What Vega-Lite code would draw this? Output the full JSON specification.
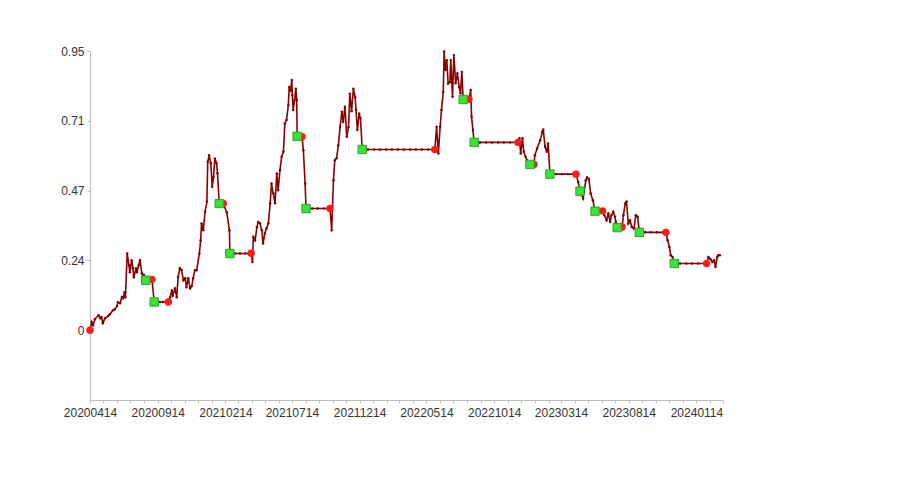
{
  "$schema": "https://vega.github.io/schema/vega-lite/v6.json",
  "autosize": "none",
  "width": 633,
  "height": 349,
  "padding": {"left": 90, "top": 51, "right": 177, "bottom": 100},
  "background": "white",
  "config": {
    "view": {"stroke": null},
    "axis": {"grid": false, "domainColor": "#bdbdbd", "tickColor": "#bdbdbd", "tickSize": 3, "labelColor": "#333333", "labelFont": "Liberation Sans", "labelFontSize": 12, "title": null}
  },
  "data": {"values": [
    {"d":"2020-04-14","v":0.000,"s":"buy"},
    {"d":"2020-04-18","v":0.028},
    {"d":"2020-04-21","v":0.017},
    {"d":"2020-04-25","v":0.037},
    {"d":"2020-05-03","v":0.051},
    {"d":"2020-05-07","v":0.041},
    {"d":"2020-05-10","v":0.045},
    {"d":"2020-05-13","v":0.024},
    {"d":"2020-05-18","v":0.041},
    {"d":"2020-05-25","v":0.048},
    {"d":"2020-05-29","v":0.054},
    {"d":"2020-06-05","v":0.068},
    {"d":"2020-06-09","v":0.071},
    {"d":"2020-06-14","v":0.082},
    {"d":"2020-06-16","v":0.095},
    {"d":"2020-06-21","v":0.092},
    {"d":"2020-06-25","v":0.113},
    {"d":"2020-06-28","v":0.109},
    {"d":"2020-07-01","v":0.129},
    {"d":"2020-07-03","v":0.112},
    {"d":"2020-07-07","v":0.261},
    {"d":"2020-07-11","v":0.221},
    {"d":"2020-07-13","v":0.197},
    {"d":"2020-07-17","v":0.238},
    {"d":"2020-07-20","v":0.211},
    {"d":"2020-07-22","v":0.180},
    {"d":"2020-07-27","v":0.211},
    {"d":"2020-07-29","v":0.197},
    {"d":"2020-08-02","v":0.221},
    {"d":"2020-08-05","v":0.238},
    {"d":"2020-08-09","v":0.194},
    {"d":"2020-08-12","v":0.180},
    {"d":"2020-08-14","v":0.187},
    {"d":"2020-08-18","v":0.170,"s":"sell"},
    {"d":"2020-09-01","v":0.173,"s":"buy"},
    {"d":"2020-09-06","v":0.096,"s":"sell"},
    {"d":"2020-09-12","v":0.096},
    {"d":"2020-09-19","v":0.096},
    {"d":"2020-09-26","v":0.096},
    {"d":"2020-10-03","v":0.096},
    {"d":"2020-10-08","v":0.096,"s":"buy"},
    {"d":"2020-10-12","v":0.112},
    {"d":"2020-10-16","v":0.136},
    {"d":"2020-10-18","v":0.116},
    {"d":"2020-10-23","v":0.143},
    {"d":"2020-10-27","v":0.112},
    {"d":"2020-10-30","v":0.181},
    {"d":"2020-11-03","v":0.211},
    {"d":"2020-11-07","v":0.204},
    {"d":"2020-11-11","v":0.170},
    {"d":"2020-11-15","v":0.177},
    {"d":"2020-11-18","v":0.146},
    {"d":"2020-11-22","v":0.177},
    {"d":"2020-11-26","v":0.143},
    {"d":"2020-11-30","v":0.150},
    {"d":"2020-12-03","v":0.177},
    {"d":"2020-12-07","v":0.204},
    {"d":"2020-12-11","v":0.204},
    {"d":"2020-12-17","v":0.261},
    {"d":"2020-12-20","v":0.306},
    {"d":"2020-12-22","v":0.363},
    {"d":"2020-12-26","v":0.340},
    {"d":"2020-12-30","v":0.403},
    {"d":"2021-01-03","v":0.437},
    {"d":"2021-01-05","v":0.573},
    {"d":"2021-01-08","v":0.595},
    {"d":"2021-01-12","v":0.568},
    {"d":"2021-01-15","v":0.488},
    {"d":"2021-01-18","v":0.521},
    {"d":"2021-01-21","v":0.584},
    {"d":"2021-01-25","v":0.568},
    {"d":"2021-01-27","v":0.534},
    {"d":"2021-01-31","v":0.431,"s":"sell"},
    {"d":"2021-02-09","v":0.431,"s":"buy"},
    {"d":"2021-02-17","v":0.401},
    {"d":"2021-02-23","v":0.340},
    {"d":"2021-02-24","v":0.261,"s":"sell"},
    {"d":"2021-03-08","v":0.261},
    {"d":"2021-03-19","v":0.261},
    {"d":"2021-03-30","v":0.261},
    {"d":"2021-04-13","v":0.262,"s":"buy"},
    {"d":"2021-04-16","v":0.232},
    {"d":"2021-04-18","v":0.317},
    {"d":"2021-04-22","v":0.306},
    {"d":"2021-04-26","v":0.350},
    {"d":"2021-04-29","v":0.368},
    {"d":"2021-05-03","v":0.364},
    {"d":"2021-05-07","v":0.340},
    {"d":"2021-05-10","v":0.295},
    {"d":"2021-05-14","v":0.330},
    {"d":"2021-05-18","v":0.347},
    {"d":"2021-05-22","v":0.364},
    {"d":"2021-05-26","v":0.431},
    {"d":"2021-05-29","v":0.499},
    {"d":"2021-06-02","v":0.466},
    {"d":"2021-06-06","v":0.432},
    {"d":"2021-06-10","v":0.533},
    {"d":"2021-06-13","v":0.476},
    {"d":"2021-06-17","v":0.544},
    {"d":"2021-06-21","v":0.590},
    {"d":"2021-06-25","v":0.607},
    {"d":"2021-06-28","v":0.703},
    {"d":"2021-07-02","v":0.715},
    {"d":"2021-07-06","v":0.766},
    {"d":"2021-07-08","v":0.828},
    {"d":"2021-07-11","v":0.817},
    {"d":"2021-07-14","v":0.851},
    {"d":"2021-07-15","v":0.800},
    {"d":"2021-07-17","v":0.749},
    {"d":"2021-07-20","v":0.783},
    {"d":"2021-07-23","v":0.822},
    {"d":"2021-07-25","v":0.783},
    {"d":"2021-07-26","v":0.660,"s":"sell"},
    {"d":"2021-08-06","v":0.658,"s":"buy"},
    {"d":"2021-08-09","v":0.612},
    {"d":"2021-08-13","v":0.499},
    {"d":"2021-08-15","v":0.414,"s":"sell"},
    {"d":"2021-08-29","v":0.414},
    {"d":"2021-09-11","v":0.414},
    {"d":"2021-09-25","v":0.414},
    {"d":"2021-10-08","v":0.414,"s":"buy"},
    {"d":"2021-10-12","v":0.340},
    {"d":"2021-10-16","v":0.510},
    {"d":"2021-10-19","v":0.578},
    {"d":"2021-10-23","v":0.585},
    {"d":"2021-10-27","v":0.629},
    {"d":"2021-10-31","v":0.692},
    {"d":"2021-11-04","v":0.743},
    {"d":"2021-11-07","v":0.708},
    {"d":"2021-11-11","v":0.760},
    {"d":"2021-11-15","v":0.658},
    {"d":"2021-11-19","v":0.691},
    {"d":"2021-11-22","v":0.805},
    {"d":"2021-11-26","v":0.745},
    {"d":"2021-11-30","v":0.822},
    {"d":"2021-12-04","v":0.793},
    {"d":"2021-12-06","v":0.749},
    {"d":"2021-12-09","v":0.681},
    {"d":"2021-12-13","v":0.737},
    {"d":"2021-12-16","v":0.721},
    {"d":"2021-12-20","v":0.615,"s":"sell"},
    {"d":"2022-01-02","v":0.615},
    {"d":"2022-01-16","v":0.615},
    {"d":"2022-01-29","v":0.615},
    {"d":"2022-02-12","v":0.615},
    {"d":"2022-02-25","v":0.615},
    {"d":"2022-03-11","v":0.615},
    {"d":"2022-03-24","v":0.615},
    {"d":"2022-04-07","v":0.615},
    {"d":"2022-04-20","v":0.615},
    {"d":"2022-05-04","v":0.615},
    {"d":"2022-05-18","v":0.615},
    {"d":"2022-06-02","v":0.615,"s":"buy"},
    {"d":"2022-06-06","v":0.692},
    {"d":"2022-06-10","v":0.601},
    {"d":"2022-06-14","v":0.692},
    {"d":"2022-06-17","v":0.749},
    {"d":"2022-06-21","v":0.811},
    {"d":"2022-06-23","v":0.948},
    {"d":"2022-06-26","v":0.885},
    {"d":"2022-06-29","v":0.919},
    {"d":"2022-07-02","v":0.839},
    {"d":"2022-07-06","v":0.844},
    {"d":"2022-07-08","v":0.919},
    {"d":"2022-07-12","v":0.794},
    {"d":"2022-07-15","v":0.936},
    {"d":"2022-07-19","v":0.840},
    {"d":"2022-07-23","v":0.874},
    {"d":"2022-07-27","v":0.827},
    {"d":"2022-07-30","v":0.806},
    {"d":"2022-08-02","v":0.879},
    {"d":"2022-08-05","v":0.785,"s":"sell"},
    {"d":"2022-08-18","v":0.786,"s":"buy"},
    {"d":"2022-08-22","v":0.817},
    {"d":"2022-08-24","v":0.726},
    {"d":"2022-08-27","v":0.681},
    {"d":"2022-08-30","v":0.639,"s":"sell"},
    {"d":"2022-09-12","v":0.639},
    {"d":"2022-09-26","v":0.639},
    {"d":"2022-10-09","v":0.639},
    {"d":"2022-10-23","v":0.639},
    {"d":"2022-11-05","v":0.639},
    {"d":"2022-11-19","v":0.639},
    {"d":"2022-12-07","v":0.639,"s":"buy"},
    {"d":"2022-12-10","v":0.653},
    {"d":"2022-12-13","v":0.601},
    {"d":"2022-12-17","v":0.653},
    {"d":"2022-12-20","v":0.607},
    {"d":"2022-12-24","v":0.590},
    {"d":"2022-12-27","v":0.578},
    {"d":"2022-12-30","v":0.567},
    {"d":"2023-01-03","v":0.564,"s":"sell"},
    {"d":"2023-01-12","v":0.564,"s":"buy"},
    {"d":"2023-01-14","v":0.595},
    {"d":"2023-01-19","v":0.618},
    {"d":"2023-01-26","v":0.646},
    {"d":"2023-01-31","v":0.675},
    {"d":"2023-02-02","v":0.683},
    {"d":"2023-02-06","v":0.624},
    {"d":"2023-02-10","v":0.607},
    {"d":"2023-02-13","v":0.635},
    {"d":"2023-02-17","v":0.531,"s":"sell"},
    {"d":"2023-03-03","v":0.531},
    {"d":"2023-03-16","v":0.531},
    {"d":"2023-03-30","v":0.531},
    {"d":"2023-04-17","v":0.531,"s":"buy"},
    {"d":"2023-04-22","v":0.504},
    {"d":"2023-04-26","v":0.473,"s":"sell"},
    {"d":"2023-04-30","v":0.459},
    {"d":"2023-05-03","v":0.448},
    {"d":"2023-05-09","v":0.510},
    {"d":"2023-05-12","v":0.520},
    {"d":"2023-05-16","v":0.514},
    {"d":"2023-05-20","v":0.465},
    {"d":"2023-05-25","v":0.442},
    {"d":"2023-05-30","v":0.405,"s":"sell"},
    {"d":"2023-06-16","v":0.406,"s":"buy"},
    {"d":"2023-06-20","v":0.391},
    {"d":"2023-06-25","v":0.374},
    {"d":"2023-06-29","v":0.398},
    {"d":"2023-07-03","v":0.368},
    {"d":"2023-07-06","v":0.391},
    {"d":"2023-07-10","v":0.403},
    {"d":"2023-07-14","v":0.386},
    {"d":"2023-07-16","v":0.368},
    {"d":"2023-07-19","v":0.349,"s":"sell"},
    {"d":"2023-07-30","v":0.351,"s":"buy"},
    {"d":"2023-08-02","v":0.391},
    {"d":"2023-08-06","v":0.431},
    {"d":"2023-08-09","v":0.437},
    {"d":"2023-08-13","v":0.363},
    {"d":"2023-08-17","v":0.374},
    {"d":"2023-08-21","v":0.351},
    {"d":"2023-08-26","v":0.346},
    {"d":"2023-08-30","v":0.391},
    {"d":"2023-09-03","v":0.386},
    {"d":"2023-09-07","v":0.333,"s":"sell"},
    {"d":"2023-09-20","v":0.333},
    {"d":"2023-10-03","v":0.333},
    {"d":"2023-10-17","v":0.333},
    {"d":"2023-10-30","v":0.333},
    {"d":"2023-11-06","v":0.333,"s":"buy"},
    {"d":"2023-11-10","v":0.306},
    {"d":"2023-11-14","v":0.283},
    {"d":"2023-11-17","v":0.255},
    {"d":"2023-11-21","v":0.249},
    {"d":"2023-11-25","v":0.227,"s":"sell"},
    {"d":"2023-12-08","v":0.227},
    {"d":"2023-12-22","v":0.227},
    {"d":"2024-01-04","v":0.227},
    {"d":"2024-01-18","v":0.227},
    {"d":"2024-02-01","v":0.227},
    {"d":"2024-02-06","v":0.227,"s":"buy"},
    {"d":"2024-02-10","v":0.249},
    {"d":"2024-02-15","v":0.241},
    {"d":"2024-02-19","v":0.232},
    {"d":"2024-02-23","v":0.238},
    {"d":"2024-02-26","v":0.215},
    {"d":"2024-03-01","v":0.249},
    {"d":"2024-03-03","v":0.255},
    {"d":"2024-03-07","v":0.255}
  ]},
  "encoding": {
    "x": {
      "field": "d", "type": "temporal",
      "scale": {"type": "utc", "domain": [{"year":2020,"month":4,"date":14,"utc":true},{"year":2024,"month":3,"date":14,"utc":true}]},
      "axis": {
        "values": [
          {"year":2020,"month":4,"date":14,"utc":true},{"year":2020,"month":5,"date":14,"utc":true},{"year":2020,"month":6,"date":14,"utc":true},{"year":2020,"month":7,"date":14,"utc":true},{"year":2020,"month":8,"date":14,"utc":true},{"year":2020,"month":9,"date":14,"utc":true},{"year":2020,"month":10,"date":14,"utc":true},{"year":2020,"month":11,"date":14,"utc":true},{"year":2020,"month":12,"date":14,"utc":true},
          {"year":2021,"month":1,"date":14,"utc":true},{"year":2021,"month":2,"date":14,"utc":true},{"year":2021,"month":3,"date":14,"utc":true},{"year":2021,"month":4,"date":14,"utc":true},{"year":2021,"month":5,"date":14,"utc":true},{"year":2021,"month":6,"date":14,"utc":true},{"year":2021,"month":7,"date":14,"utc":true},{"year":2021,"month":8,"date":14,"utc":true},{"year":2021,"month":9,"date":14,"utc":true},{"year":2021,"month":10,"date":14,"utc":true},{"year":2021,"month":11,"date":14,"utc":true},{"year":2021,"month":12,"date":14,"utc":true},
          {"year":2022,"month":1,"date":14,"utc":true},{"year":2022,"month":2,"date":14,"utc":true},{"year":2022,"month":3,"date":14,"utc":true},{"year":2022,"month":4,"date":14,"utc":true},{"year":2022,"month":5,"date":14,"utc":true},{"year":2022,"month":6,"date":14,"utc":true},{"year":2022,"month":7,"date":14,"utc":true},{"year":2022,"month":8,"date":14,"utc":true},{"year":2022,"month":9,"date":14,"utc":true},{"year":2022,"month":10,"date":14,"utc":true},{"year":2022,"month":11,"date":14,"utc":true},{"year":2022,"month":12,"date":14,"utc":true},
          {"year":2023,"month":1,"date":14,"utc":true},{"year":2023,"month":2,"date":14,"utc":true},{"year":2023,"month":3,"date":14,"utc":true},{"year":2023,"month":4,"date":14,"utc":true},{"year":2023,"month":5,"date":14,"utc":true},{"year":2023,"month":6,"date":14,"utc":true},{"year":2023,"month":7,"date":14,"utc":true},{"year":2023,"month":8,"date":14,"utc":true},{"year":2023,"month":9,"date":14,"utc":true},{"year":2023,"month":10,"date":14,"utc":true},{"year":2023,"month":11,"date":14,"utc":true},{"year":2023,"month":12,"date":14,"utc":true},
          {"year":2024,"month":1,"date":14,"utc":true},{"year":2024,"month":2,"date":14,"utc":true},{"year":2024,"month":3,"date":14,"utc":true}
        ],
        "labelExpr": "((utcyear(datum.value)-2020)*12 + utcmonth(datum.value) - 3) % 5 == 0 ? utcFormat(datum.value, '%Y%m%d') : ''",
        "labelOverlap": false,
        "labelPadding": 4,
        "labelFlush": false
      }
    },
    "y": {
      "field": "v", "type": "quantitative",
      "scale": {"domain": [-0.2375, 0.95], "nice": false, "zero": false},
      "axis": {
        "values": [0, 0.2375, 0.475, 0.7125, 0.95],
        "labelExpr": "datum.value < 0.1 ? '0' : datum.value < 0.3 ? '0.24' : datum.value < 0.6 ? '0.47' : datum.value < 0.8 ? '0.71' : '0.95'",
        "labelPadding": 3
      }
    }
  },
  "layer": [
    {"mark": {"type": "line", "color": "#8b0000", "strokeWidth": 1.6, "interpolate": "linear"}},
    {"mark": {"type": "point", "filled": true, "color": "#7a0000", "size": 6, "opacity": 1}},
    {"transform": [{"filter": "datum.s == 'buy'"}], "mark": {"type": "point", "shape": "circle", "filled": true, "color": "#ff1a1a", "size": 55, "opacity": 1}},
    {"transform": [{"filter": "datum.s == 'sell'"}], "mark": {"type": "point", "shape": "square", "filled": true, "fill": "#3ddf3d", "stroke": "#1fae1f", "strokeWidth": 1, "size": 70, "opacity": 1}}
  ]
}
